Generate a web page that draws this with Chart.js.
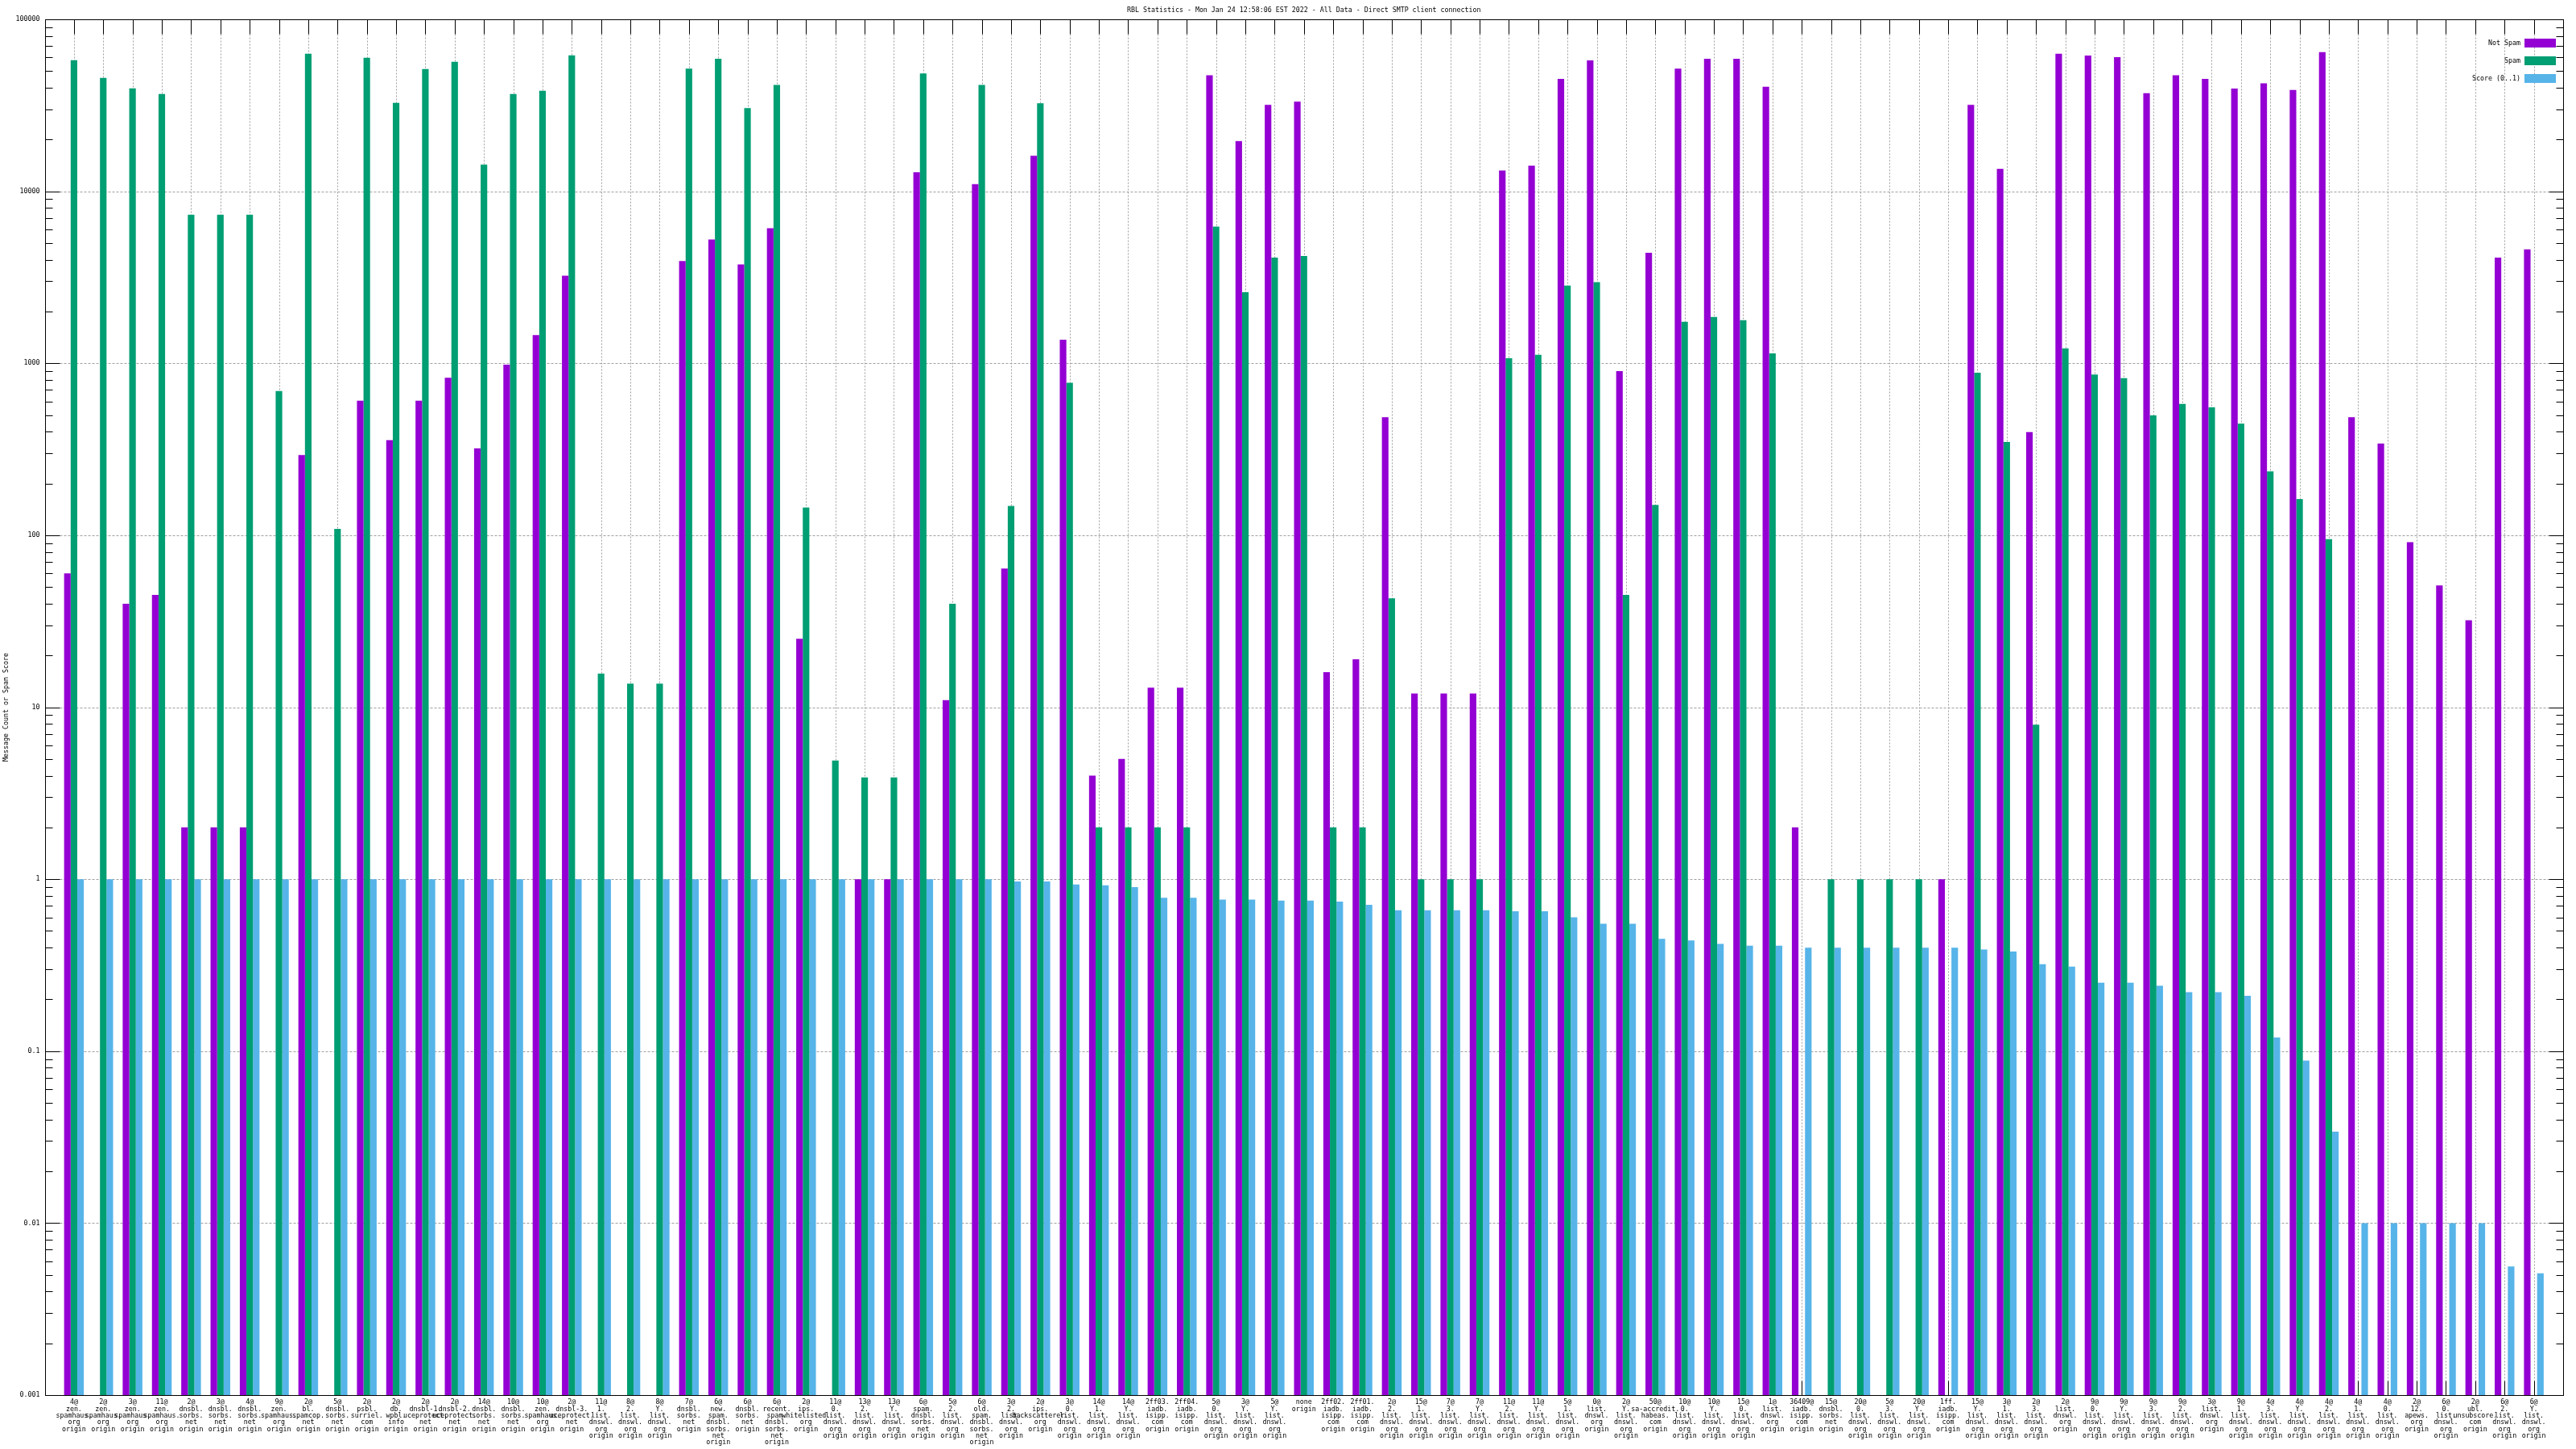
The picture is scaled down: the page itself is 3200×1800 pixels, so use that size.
<!DOCTYPE html>
<html>
<head>
<meta charset="utf-8">
<style>
html,body{margin:0;padding:0;background:#fff;}
canvas{display:block;}
</style>
<script src="https://cdn.jsdelivr.net/npm/chart.js@4.4.1/dist/chart.umd.min.js"></script>
</head>
<body>
<canvas id="c" width="3200" height="1800"></canvas>
<script>
const titleText = 'RBL Statistics - Mon Jan 24 12:58:06 EST 2022 - All Data - Direct SMTP client connection';
const yAxisTitle = 'Message Count or Spam Score';
const seriesNames = ['Not Spam', 'Spam', 'Score (0..1)'];
const seriesColors = ['#9400d3', '#009e73', '#56b4e9'];

const categories = [
  '4@zen.spamhaus.org origin', '2@zen.spamhaus.org origin', '3@zen.spamhaus.org origin', '11@zen.spamhaus.org origin',
  '2@dnsbl.sorbs.net origin', '3@dnsbl.sorbs.net origin', '4@dnsbl.sorbs.net origin', '9@zen.spamhaus.org origin',
  '2@bl.spamcop.net origin', '5@dnsbl.sorbs.net origin', '2@psbl.surriel.com origin', '2@db.wpbl.info origin',
  '2@dnsbl-1.uceprotect.net origin', '2@dnsbl-2.uceprotect.net origin', '14@dnsbl.sorbs.net origin', '10@dnsbl.sorbs.net origin',
  '10@zen.spamhaus.org origin', '2@dnsbl-3.uceprotect.net origin', '11@1.list.dnswl.org origin', '8@2.list.dnswl.org origin',
  '8@Y.list.dnswl.org origin', '7@dnsbl.sorbs.net origin', '6@new.spam.dnsbl.sorbs.net origin', '6@dnsbl.sorbs.net origin',
  '6@recent.spam.dnsbl.sorbs.net origin', '2@ips.whitelisted.org origin', '11@0.list.dnswl.org origin', '13@2.list.dnswl.org origin',
  '13@Y.list.dnswl.org origin', '6@spam.dnsbl.sorbs.net origin', '5@2.list.dnswl.org origin', '6@old.spam.dnsbl.sorbs.net origin',
  '3@2.list.dnswl.org origin', '2@ips.backscatterer.org origin', '3@0.list.dnswl.org origin', '14@1.list.dnswl.org origin',
  '14@Y.list.dnswl.org origin', '2ff03.iadb.isipp.com origin', '2ff04.iadb.isipp.com origin', '5@0.list.dnswl.org origin',
  '3@Y.list.dnswl.org origin', '5@Y.list.dnswl.org origin', 'none origin', '2ff02.iadb.isipp.com origin',
  '2ff01.iadb.isipp.com origin', '2@2.list.dnswl.org origin', '15@1.list.dnswl.org origin', '7@3.list.dnswl.org origin',
  '7@Y.list.dnswl.org origin', '11@2.list.dnswl.org origin', '11@Y.list.dnswl.org origin', '5@1.list.dnswl.org origin',
  '0@list.dnswl.org origin', '2@Y.list.dnswl.org origin', '50@sa-accredit.habeas.com origin', '10@0.list.dnswl.org origin',
  '10@Y.list.dnswl.org origin', '15@0.list.dnswl.org origin', '1@list.dnswl.org origin', '36409@iadb.isipp.com origin',
  '15@dnsbl.sorbs.net origin', '20@0.list.dnswl.org origin', '5@3.list.dnswl.org origin', '20@Y.list.dnswl.org origin',
  '1ff.iadb.isipp.com origin', '15@Y.list.dnswl.org origin', '3@1.list.dnswl.org origin', '2@3.list.dnswl.org origin',
  '2@list.dnswl.org origin', '9@0.list.dnswl.org origin', '9@Y.list.dnswl.org origin', '9@3.list.dnswl.org origin',
  '9@2.list.dnswl.org origin', '3@list.dnswl.org origin', '9@1.list.dnswl.org origin', '4@3.list.dnswl.org origin',
  '4@Y.list.dnswl.org origin', '4@2.list.dnswl.org origin', '4@1.list.dnswl.org origin', '4@0.list.dnswl.org origin',
  '2@12.apews.org origin', '6@0.list.dnswl.org origin', '2@ubl.unsubscore.com origin', '6@2.list.dnswl.org origin',
  '6@Y.list.dnswl.org origin'
];

const notSpam = [
  60, null, 40, 45, 2, 2, 2, null, 293, null, 605, 357, 605, 824, 320, 980, 1460, 3230, null, null,
  null, 3930, 5240, 3760, 6100, 25, null, 1, 1, 12900, 11, 11000, 64, 16100, 1370, 4, 5, 13, 13, 47300,
  19600, 31800, 33200, 16, 19, 486, 12, 12, 12, 13200, 14100, 45000, 57700, 900, 4390, 51700, 59000, 59000, 40500, 2,
  null, null, null, null, 1, 31800, 13500, 398, 63000, 61600, 60300, 37200, 47300, 45000, 39600, 42400, 38800, 64400, 486, 341,
  91, 51, 32, 4110, 4600
];

const spam = [
  57800, 45600, 39700, 36800, 7300, 7300, 7300, 690, 63000, 109, 59700, 32700, 51400, 56600, 14300, 36800, 38400, 61700, 15.7, 13.7,
  13.7, 51700, 59000, 30500, 41500, 145, 4.9, 3.9, 3.9, 48400, 40, 41500, 148, 32500, 770, 2, 2, 2, 2, 6240,
  2590, 4110, 4200, 2, 2, 43, 1, 1, 1, 1070, 1120, 2830, 2960, 45, 150, 1740, 1860, 1780, 1140, null,
  1, 1, 1, 1, null, 880, 349, 7.9, 1220, 860, 820, 497, 580, 555, 445, 235, 162, 95, null, null,
  null, null, null, null, null
];

const score = [
  1, 1, 1, 1, 1, 1, 1, 1, 1, 1, 1, 1, 1, 1, 1, 1, 1, 1, 1, 1,
  1, 1, 1, 1, 1, 1, 1, 1, 1, 1, 1, 1, 0.97, 0.97, 0.93, 0.92, 0.9, 0.78, 0.78, 0.76,
  0.76, 0.75, 0.75, 0.74, 0.71, 0.66, 0.66, 0.66, 0.66, 0.65, 0.65, 0.6, 0.55, 0.55, 0.45, 0.44, 0.42, 0.41, 0.41, 0.4,
  0.4, 0.4, 0.4, 0.4, 0.4, 0.39, 0.38, 0.32, 0.31, 0.25, 0.25, 0.24, 0.22, 0.22, 0.21, 0.12, 0.088, 0.034, 0.01, 0.01,
  0.01, 0.01, 0.01, 0.0056, 0.0051
];

const yMajorTicks = [0.001, 0.01, 0.1, 1, 10, 100, 1000, 10000, 100000];
const yTickLabels = ['0.001', '0.01', '0.1', '1', '10', '100', '1000', '10000', '100000'];

const FONT = '"DejaVu Sans Mono", "Liberation Mono", monospace';
const FSIZE = 8.3;

function splitLabel(s) {
  const parts = s.split(' ');
  const head = parts[0].replace(/([@.])/g, '$1\n').split('\n').filter(p => p.length);
  return head.concat(parts.slice(1));
}
const labelLines = categories.map(splitLabel);

function toPoints(arr) {
  return arr.map((v, i) => ({ x: i, y: v })).filter(p => p.y !== null);
}

Chart.defaults.font.family = FONT;
Chart.defaults.font.size = FSIZE;
Chart.defaults.color = '#000';

const framePlugin = {
  id: 'gnuFrame',
  beforeDatasetsDraw(chart) {
    const { ctx, chartArea: a, scales: { x, y } } = chart;
    const L = Math.round(a.left) + 0.5, R = Math.round(a.right) + 0.5;
    const T = Math.round(a.top) + 0.5, B = Math.round(a.bottom) + 0.5;
    const line = (x1, y1, x2, y2) => { ctx.beginPath(); ctx.moveTo(x1, y1); ctx.lineTo(x2, y2); ctx.stroke(); };
    ctx.save();
    ctx.lineWidth = 1;
    ctx.strokeStyle = '#a0a0a0';
    ctx.setLineDash([2, 2]);
    x.ticks.forEach(t => {
      const px = Math.round(x.getPixelForValue(t.value)) + 0.5;
      line(px, T + 18, px, B - 18);
    });
    ctx.setLineDash([3, 2]);
    y.ticks.filter(t => t.major).forEach(t => {
      const py = Math.round(y.getPixelForValue(t.value)) + 0.5;
      line(L + 18, py, R - 18, py);
    });
    ctx.setLineDash([]);
    ctx.strokeStyle = '#000';
    x.ticks.forEach(t => {
      const px = Math.round(x.getPixelForValue(t.value)) + 0.5;
      line(px, B, px, B - 18);
      line(px, T, px, T + 18);
    });
    y.ticks.forEach(t => {
      const py = Math.round(y.getPixelForValue(t.value)) + 0.5;
      const len = t.major ? 18 : 9;
      line(L, py, L + len, py);
      line(R, py, R - len, py);
    });
    ctx.restore();
  },
  afterDatasetsDraw(chart) {
    const { ctx, chartArea: a } = chart;
    const L = Math.round(a.left) + 0.5, R = Math.round(a.right) + 0.5;
    const T = Math.round(a.top) + 0.5, B = Math.round(a.bottom) + 0.5;
    ctx.save();
    ctx.lineWidth = 1;
    ctx.strokeStyle = '#000';
    ctx.strokeRect(L, T, R - L, B - T);
    // key
    ctx.font = FSIZE + 'px ' + FONT;
    ctx.textAlign = 'right';
    ctx.textBaseline = 'middle';
    chart.data.datasets.forEach((ds, i) => {
      const bw = 39, bh = 11;
      const bx = Math.round(a.right) - 9 - bw;
      const by = Math.round(a.top) + 24 + i * 22;
      ctx.fillStyle = ds.backgroundColor;
      ctx.fillRect(bx, by, bw, bh);
      ctx.fillStyle = '#000';
      ctx.fillText(ds.label, bx - 5, by + bh / 2 + 0.5);
    });
    ctx.restore();
  }
};

new Chart(document.getElementById('c'), {
  type: 'bar',
  data: {
    datasets: [
      { label: seriesNames[0], data: toPoints(notSpam), backgroundColor: seriesColors[0] },
      { label: seriesNames[1], data: toPoints(spam), backgroundColor: seriesColors[1] },
      { label: seriesNames[2], data: toPoints(score), backgroundColor: seriesColors[2] }
    ]
  },
  options: {
    responsive: false,
    animation: false,
    devicePixelRatio: 1,
    events: [],
    layout: { padding: { top: 0, right: 16, bottom: 0, left: 0 } },
    datasets: {
      bar: { categoryPercentage: 0.673, barPercentage: 1.0, borderWidth: 0 }
    },
    plugins: {
      legend: { display: false },
      tooltip: { enabled: false },
      title: {
        display: true,
        text: titleText,
        fullSize: false,
        color: '#000',
        font: { family: FONT, size: FSIZE, weight: 'normal', lineHeight: 1.0 },
        padding: { top: 8.5, bottom: 7.2 }
      }
    },
    scales: {
      x: {
        type: 'linear',
        position: 'bottom',
        min: -1,
        max: categories.length,
        offset: false,
        grid: { display: false, drawTicks: false },
        border: { display: false },
        ticks: {
          autoSkip: false,
          maxRotation: 0,
          minRotation: 0,
          padding: 5,
          color: '#000',
          font: { family: FONT, size: FSIZE, lineHeight: 1.0 },
          callback: (v) => labelLines[v] || ''
        },
        afterBuildTicks: (s) => { s.ticks = categories.map((_, i) => ({ value: i })); },
        afterFit: (s) => { s.height = 67; }
      },
      y: {
        type: 'logarithmic',
        position: 'left',
        min: 0.001,
        max: 100000,
        grid: { display: false, drawTicks: false },
        border: { display: false },
        ticks: {
          autoSkip: false,
          padding: 6,
          color: '#000',
          font: { family: FONT, size: FSIZE, lineHeight: 1.0 },
          callback: (v) => { const k = yMajorTicks.indexOf(v); return k >= 0 ? yTickLabels[k] : ''; }
        },
        title: {
          display: true,
          text: yAxisTitle,
          color: '#000',
          font: { family: FONT, size: FSIZE, lineHeight: 1.0 },
          padding: { top: 3.5, bottom: 0 }
        },
        afterBuildTicks: (s) => {
          const t = [];
          yMajorTicks.forEach((m, i) => {
            t.push({ value: m, major: true });
            if (i < yMajorTicks.length - 1) {
              for (let k = 2; k <= 9; k++) t.push({ value: +(m * k).toPrecision(3), major: false });
            }
          });
          s.ticks = t;
        },
        afterFit: (s) => { s.width = 55.5; }
      }
    }
  },
  plugins: [framePlugin]
});
</script>
</body>
</html>
